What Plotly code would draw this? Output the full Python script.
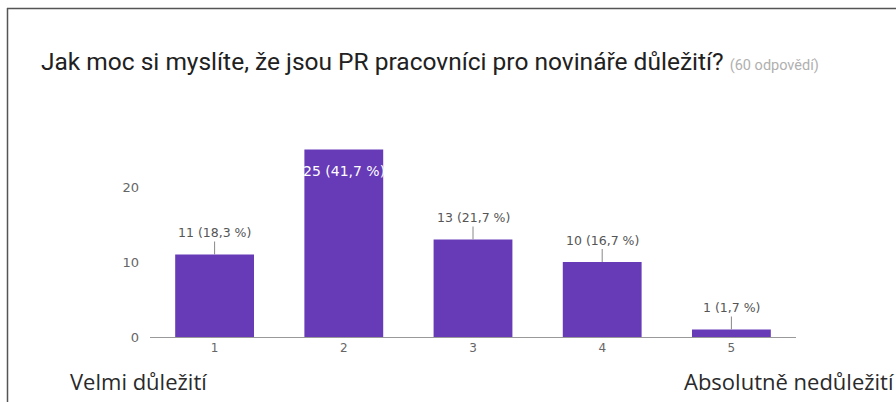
import plotly.graph_objects as go

# Survey responses: importance of PR workers for journalists (1 = very important, 5 = not important)
categories = [1, 2, 3, 4, 5]
counts = [11, 25, 13, 10, 1]
total = sum(counts)
y_ticks = [0, 10, 20]

title_text = "Jak moc si myslíte, že jsou PR pracovníci pro novináře důležití?"
responses_text = "(60 odpovědí)"
left_label = "Velmi důležití"
right_label = "Absolutně nedůležití"

W, H = 896, 402
L, R, T, B = 150, 100, 142, 65
pw, ph = W - L - R, H - T - B


def px_x(px):
    return (px - L) / pw


def px_y(py):
    return (H - B - py) / ph


def fmt(v):
    pct = f"{v / total * 100:.1f}".replace(".", ",")
    return f"{v} ({pct} %)"


bar_color = "#673ab7"
label_font = "DejaVu Sans"

fig = go.Figure(
    go.Bar(
        x=categories,
        y=counts,
        marker=dict(color=bar_color, line=dict(width=0)),
        hoverinfo="skip",
    )
)

annotations = []
for c, v in zip(categories, counts):
    if v == max(counts):
        annotations.append(dict(
            x=c, y=v, xref="x", yref="y", text=fmt(v), showarrow=False,
            yshift=-21, font=dict(family=label_font, size=14, color="#ffffff"),
        ))
    else:
        annotations.append(dict(
            x=c, y=v, xref="x", yref="y", text=fmt(v), showarrow=True,
            arrowhead=0, arrowwidth=1, arrowcolor="#888888", ax=0, ay=-22,
            font=dict(family=label_font, size=12.5, color="#555555"),
        ))

annotations += [
    dict(x=px_x(68), y=px_y(381), xref="paper", yref="paper", xanchor="left",
         yanchor="middle", text=left_label, showarrow=False,
         font=dict(family="Open Sans", size=22, color="#2a2a2a")),
    dict(x=px_x(682), y=px_y(381), xref="paper", yref="paper", xanchor="left",
         yanchor="middle", text=right_label, showarrow=False,
         font=dict(family="Open Sans", size=22, color="#2a2a2a")),
]

shapes = [
    # frame lines on the left and top edges
    dict(type="line", xref="paper", yref="paper", x0=px_x(7.5), x1=px_x(7.5),
         y0=px_y(8), y1=px_y(H + 5), line=dict(color="#555555", width=1.5)),
    dict(type="line", xref="paper", yref="paper", x0=px_x(7), x1=px_x(W + 5),
         y0=px_y(8.5), y1=px_y(8.5), line=dict(color="#555555", width=1.5)),
]

fig.update_layout(
    width=W, height=H,
    margin=dict(l=L, r=R, t=T, b=B, pad=0),
    paper_bgcolor="white", plot_bgcolor="white",
    bargap=0.39,
    showlegend=False,
    title=dict(
        text=f"{title_text} <span style='font-size:14.5px;color:#b0b0b0'>{responses_text}</span>",
        x=41 / W, xanchor="left", xref="container",
        y=1 - 61 / H, yanchor="middle", yref="container",
        font=dict(family="Roboto", size=24.5, color="#212121"),
    ),
    xaxis=dict(
        range=[0.5, 5.5], tickvals=categories, ticktext=[str(c) for c in categories],
        showgrid=False, zeroline=False, showline=True, linecolor="#999999", linewidth=1,
        ticks="", tickfont=dict(family=label_font, size=12, color="#666666"),
        fixedrange=True,
    ),
    yaxis=dict(
        range=[0, 26], tickvals=y_ticks, showgrid=False, zeroline=False,
        showline=False, ticks="", ticklabelstandoff=10,
        tickfont=dict(family=label_font, size=13, color="#666666"),
        fixedrange=True,
    ),
    annotations=annotations,
    shapes=shapes,
)

fig.write_html("out.html")
